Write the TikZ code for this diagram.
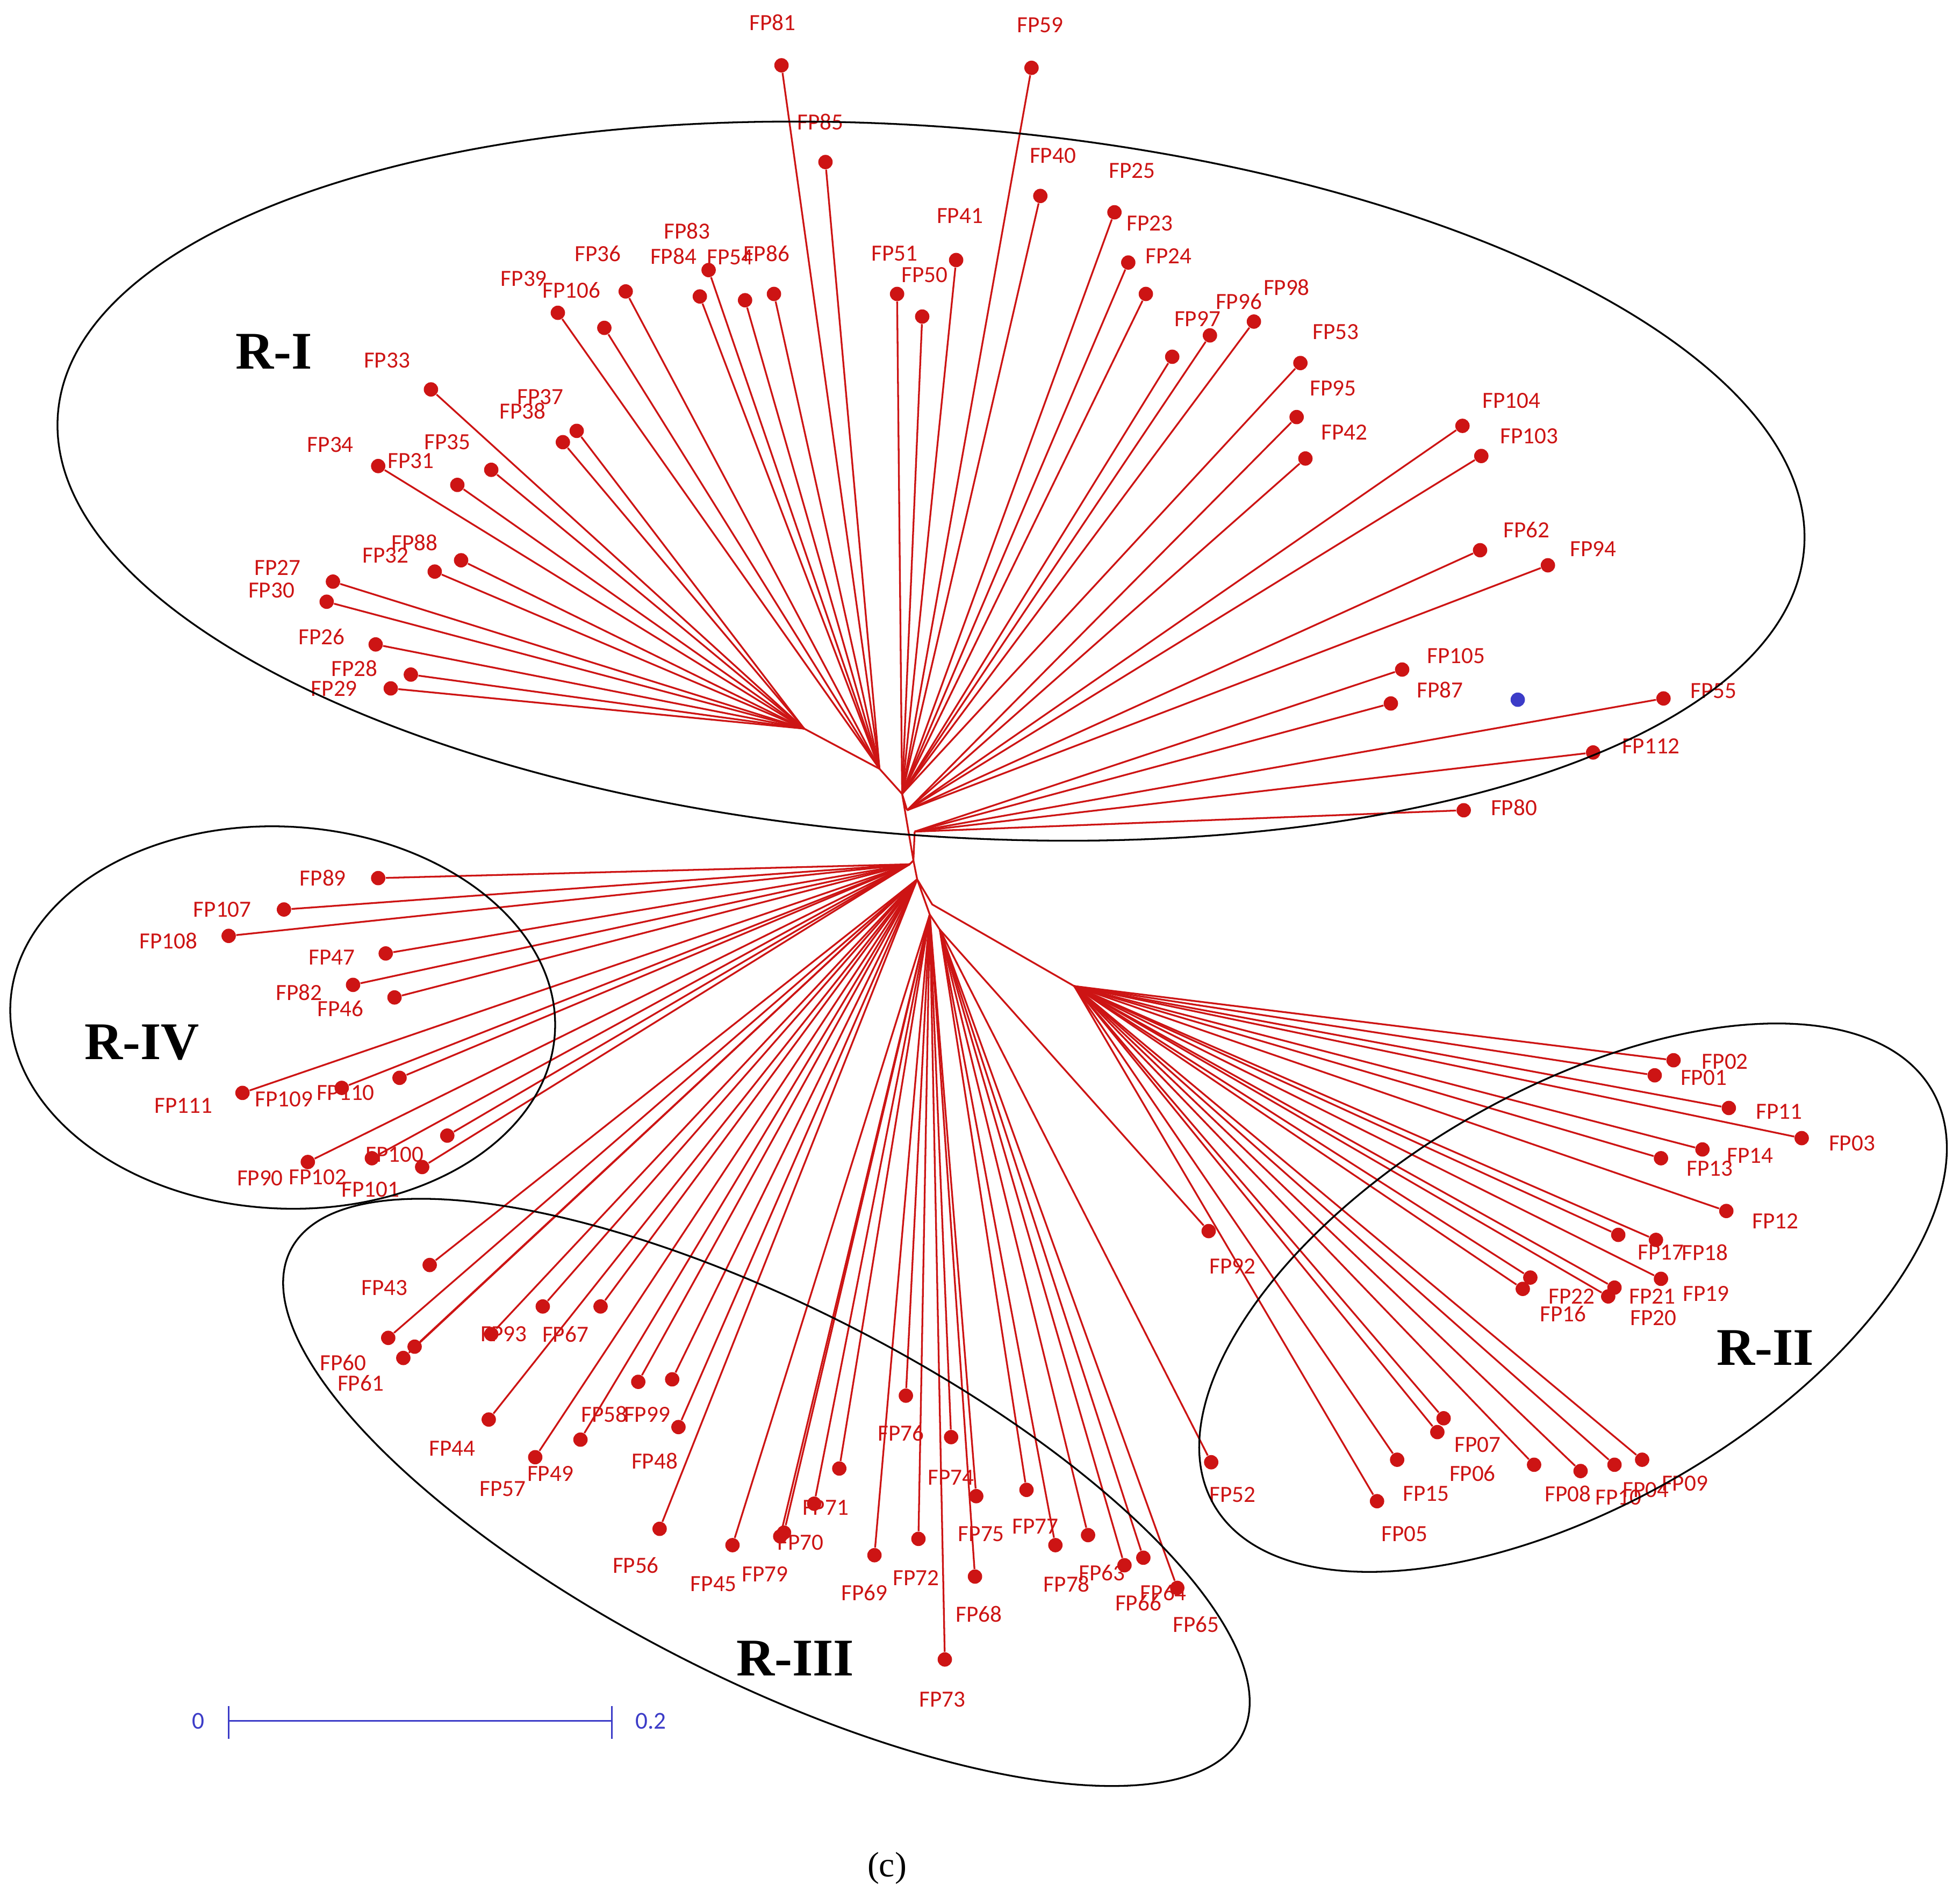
\documentclass[tikz,border=0pt]{standalone}
\usepackage{fontspec}
\setmainfont{Liberation Serif}
\newfontfamily\lab{Carlito}
\definecolor{tr}{RGB}{205,20,20}
\definecolor{sb}{RGB}{60,60,200}
\begin{document}
\begin{tikzpicture}[x=0.02cm,y=-0.02cm,
  br/.style={draw=tr,line width=0.8pt},
  dot/.style={circle,fill=tr,inner sep=0pt,minimum size=6.5pt},
  lb/.style={text=tr,font=\lab\fontsize{10.5}{10.5}\selectfont,inner sep=0pt},
  reg/.style={font=\bfseries\fontsize{24}{24}\selectfont},
  ell/.style={draw=black,line width=0.8pt}]
\useasboundingbox (0,0) rectangle (1560,1506);
\fill[white] (0,0) rectangle (1560,1506);
% hubs
\coordinate (C) at (727,685);
\coordinate (H1) at (718,632);
\coordinate (HT) at (700,612);
\coordinate (HL) at (640,580);
\coordinate (HR) at (722,645);
\coordinate (HR2) at (728,662);
\coordinate (H4) at (724,688);
\coordinate (H3a) at (730,700);
\coordinate (H3b) at (740,728);
\coordinate (H3c) at (748,740);
\coordinate (H2a) at (742,720);
\coordinate (H2) at (855,785);
\draw[br] (C)--(HR2) (C)--(H1)--(HR) (H1)--(HT)--(HL) (C)--(H4) (C)--(H3a)--(H3b)--(H3c) (H3a)--(H2a)--(H2);
\foreach \n/\x/\y/\lx/\ly/\h in {
FP81/622/52/615/18/HT, FP59/821/54/828/20/H1, FP85/657/129/653/97/HT,
FP40/828/156/838/124/H1, FP25/887/169/901/136/H1, FP41/761/207/764/172/H1,
FP23/898/209/915/178/H1, FP24/912/234/930/204/H1, FP51/714/234/712/202/H1,
FP50/734/252/736/219/H1, FP83/564/215/547/184/HT, FP84/557/236/536/204/HT,
FP54/593/239/581/205/HT, FP86/616/234/610/202/HT, FP36/498/232/476/202/HT,
FP39/444/249/417/222/HT, FP106/481/261/455/231/HT, FP97/933/284/953/254/H1,
FP96/963/267/986/240/H1, FP98/998/256/1024/229/H1, FP53/1035/289/1063/264/H1,
FP95/1032/332/1061/309/HR, FP42/1039/365/1070/344/HR, FP104/1164/339/1203/319/HR,
FP103/1179/363/1217/347/HR, FP62/1178/438/1215/422/HR, FP94/1232/450/1268/437/HR,
FP105/1116/533/1159/522/HR2, FP87/1107/560/1146/549/HR2, FP55/1324/556/1364/550/HR2,
FP112/1268/599/1314/594/HR2, FP80/1165/645/1205/643/HR2,
FP33/343/310/308/287/HL, FP37/459/343/430/316/HL, FP38/448/352/416/327/HL,
FP35/391/374/356/352/HL, FP34/301/371/263/354/HL, FP31/364/386/327/367/HL,
FP88/367/446/330/432/HL, FP32/346/455/307/442/HL, FP27/265/463/221/452/HL,
FP30/260/479/216/470/HL, FP26/299/513/256/507/HL, FP28/327/537/282/532/HL,
FP29/311/548/266/548/HL,
FP89/301/699/257/699/H4, FP107/226/724/177/724/H4, FP108/182/745/134/749/H4,
FP47/307/759/264/762/H4, FP82/281/784/238/790/H4, FP46/314/794/271/803/H4,
FP111/193/870/146/880/H4, FP109/272/866/226/875/H4, FP110/318/858/275/870/H4,
FP90/245/925/207/938/H4, FP102/296/922/253/937/H4, FP100/356/904/314/919/H4,
FP101/336/929/295/947/H4,
FP43/342/1007/306/1025/H3a, FP60/309/1065/273/1085/H3a, FP61/321/1081/287/1101/H3a,
FP93/391/1062/401/1062/H3a, FP67/432/1040/450/1062/H3a, FP44/389/1130/360/1153/H3a,
FP57/426/1160/400/1185/H3a, FP49/462/1146/438/1173/H3a, FP58/508/1100/481/1126/H3a,
FP99/535/1098/515/1126/H3a, FP48/540/1136/521/1163/H3a, FP56/525/1217/506/1246/H3a,
FP45/583/1230/568/1261/H3b, FP79/621/1223/609/1253/H3b, FP70/624/1220/637/1228/H3b,
FP71/648/1197/657/1200/H3b, FP76/721/1111/717/1141/H3b, FP74/757/1144/757/1176/H3b,
FP69/696/1238/688/1268/H3b, FP72/731/1225/729/1256/H3b, FP75/777/1191/781/1221/H3b,
FP77/817/1186/824/1215/H3c, FP68/776/1255/779/1285/H3b, FP73/752/1321/750/1353/H3b,
FP78/840/1230/849/1261/H3c, FP63/866/1222/877/1252/H3c, FP66/895/1246/906/1276/H3c,
FP64/910/1240/926/1268/H3c, FP65/937/1264/952/1293/H3c, FP92/962/980/981/1008/H3c,
FP52/964/1164/981/1190/H3c,
FP02/1332/844/1373/845/H2, FP01/1317/856/1356/858/H2, FP11/1376/882/1416/885/H2,
FP03/1434/906/1474/910/H2, FP14/1355/915/1393/920/H2, FP13/1322/922/1361/930/H2,
FP12/1374/964/1413/972/H2, FP17/1288/983/1322/997/H2, FP18/1318/987/1357/997/H2,
FP22/1218/1017/1251/1032/H2, FP16/1212/1026/1244/1046/H2, FP21/1285/1025/1315/1032/H2,
FP19/1322/1018/1358/1030/H2, FP20/1280/1032/1316/1049/H2, FP07/1149/1129/1176/1150/H2,
FP06/1144/1140/1172/1173/H2, FP15/1112/1162/1135/1189/H2, FP05/1096/1195/1118/1221/H2,
FP08/1221/1166/1248/1189/H2, FP10/1258/1171/1288/1192/H2, FP04/1285/1166/1310/1186/H2,
FP09/1307/1162/1341/1181/H2}{
  \node[dot] (d\n) at (\x,\y) {};
  \draw[br] (\h) -- (d\n);
  \node[lb] (t\n) at (\lx,\ly) {\n};
}
% unlabeled tips
\foreach \i/\x/\y/\h in {u1/478/1040/H3a, u2/668/1169/H3b, u3/330/1072/H3a}{
  \node[dot] (\i) at (\x,\y) {};
  \draw[br] (\h) -- (\i);
}
\node[circle,fill=sb,inner sep=0pt,minimum size=6.5pt] (blue) at (1208,557) {};
% ellipses
\draw[ell] (741,383) ellipse [x radius=697, y radius=282, rotate=-4.4];
\draw[ell] (225,810) ellipse [x radius=217, y radius=152, rotate=-3];
\draw[ell] (610,1188) ellipse [x radius=425, y radius=148, rotate=-27];
\draw[ell] (1252,1033) ellipse [x radius=330, y radius=165, rotate=30];
\node[reg] (r1) at (218,280) {R-I};
\node[reg] (r4) at (113,830) {R-IV};
\node[reg] (r3) at (633,1320) {R-III};
\node[reg] (r2) at (1405,1073) {R-II};
% scale bar
\coordinate (s0) at (182,1370); \coordinate (s1) at (487,1370);
\draw[sb,line width=0.8pt] (s0)--(s1) (182,1358)--(182,1384) (487,1358)--(487,1384);
\node[text=sb,font=\lab\fontsize{11}{11}\selectfont] (z0) at (158,1370) {0};
\node[text=sb,font=\lab\fontsize{11}{11}\selectfont] (z2) at (518,1370) {0.2};
\node[font=\fontsize{16}{16}\selectfont] (cap) at (706,1487) {(c)};
\end{tikzpicture}
\end{document}
